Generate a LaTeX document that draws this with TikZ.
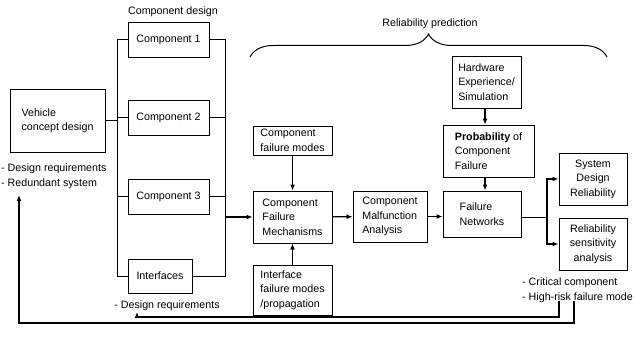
\documentclass[tikz,border=0pt]{standalone}
\usepackage{fontspec}
\setmainfont{Liberation Sans}
\usepackage{tikz}
\usetikzlibrary{%
arrows.meta,%
decorations.pathreplacing}

\begin{document}
\begin{tikzpicture}[x=1pt,y=-1pt,
    font=\fontsize{10.7}{14.5}\selectfont,
    box/.style={draw,line width=1pt,inner sep=2pt,align=left},
    cbox/.style={box,align=center},
    lbl/.style={inner sep=1pt,align=left},
    arr/.style={-{Latex[length=6pt,width=5pt]},line width=1.2pt},
    bus/.style={line width=1pt}]
\useasboundingbox (0,0) rectangle (636,337);

\node[box,minimum width=95pt,minimum height=63pt] (veh) at (57.5,120.5) {Vehicle\\concept design};
\node[box,minimum width=81pt,minimum height=34pt] (c1) at (168.5,40) {Component 1};
\node[box,minimum width=81pt,minimum height=35pt] (c2) at (168.5,117.5) {Component 2};
\node[box,minimum width=81pt,minimum height=35pt] (c3) at (168.5,196.5) {Component 3};
\node[box,minimum width=64pt,minimum height=34pt] (intf) at (160,276) {Interfaces};

\node[box,minimum width=79pt,minimum height=29pt] (cfmodes) at (292.5,140.5) {Component\\failure modes};
\node[box,minimum width=79pt,minimum height=52pt] (cfm) at (292.5,217) {Component\\Failure\\Mechanisms};
\node[box,minimum width=79pt,minimum height=50pt] (ifm) at (292.5,290) {Interface\\failure modes\\/propagation};
\node[box,minimum width=74pt,minimum height=51pt] (cma) at (390,216.5) {Component\\Malfunction\\Analysis};
\node[box,minimum width=69pt,minimum height=52pt] (hw) at (486.5,82) {Hardware\\Experience/\\Simulation};
\node[box,minimum width=91pt,minimum height=52pt] (prob) at (488.5,151) {\textbf{Probability} of\\Component\\Failure};
\node[box,minimum width=78pt,minimum height=46pt] (fn) at (482,214) {Failure\\Networks};
\node[cbox,minimum width=68pt,minimum height=52pt] (sdr) at (593,179) {System\\Design\\Reliability};
\node[cbox,minimum width=68pt,minimum height=52pt] (rsa) at (593,244) {Reliability\\sensitivity\\analysis};

\node[lbl] (cdes) at (173,12) {Component design};
\node[lbl] (relp) at (430,24) {Reliability prediction};
\node[lbl,anchor=west] (vreq) at (0,176) {- Design requirements\\- Redundant system};
\node[lbl] (ireq) at (167,306) {- Design requirements};
\node[lbl,anchor=west] (risk) at (521,290) {- Critical component\\- High-risk failure mode};

\coordinate (lbus) at (117,0);
\coordinate (rbus) at (225,0);
\coordinate (split) at (547,217);
\coordinate (fbA) at (559,301);
\coordinate (fbB) at (574,301);
\coordinate (ireqtip) at (137,312);
\coordinate (vreqtip) at (19,195);

\draw[bus] (c1.west) -| (lbus |- intf.west) -- (intf.west);
\draw[bus] (veh.east) -- (veh.east -| lbus);
\draw[bus] (c2.west) -- (c2.west -| lbus);
\draw[bus] (c3.west) -- (c3.west -| lbus);
\draw[bus] (c1.east) -| (rbus |- intf.east) -- (intf.east);
\draw[bus] (c2.east) -- (c2.east -| rbus);
\draw[bus] (c3.east) -- (c3.east -| rbus);
\draw[arr] (cfm.west -| rbus) -- (cfm.west);

\draw[arr] (cfmodes) -- (cfm);
\draw[arr] (ifm) -- (cfm);
\draw[arr] (cfm) -- (cma);
\draw[arr] (cma.east) -- (cma.east -| fn.west);
\draw[arr] (hw.south -| 485,0) -- (prob.north -| 485,0);
\draw[arr] (prob.south -| 485,0) -- (fn.north -| 485,0);
\draw[bus] (fn.east |- split) -- (split);
\draw[arr] (split) |- (sdr.west);
\draw[arr] (split) |- (rsa.west);

\draw[line width=1pt,decorate,decoration={brace,amplitude=23pt}] (250,57) -- (607,57);

\draw[arr] (fbA) -- (fbA |- 0,317) -| (ireqtip);
\draw[arr] (fbB) -- (fbB |- 0,323) -| (vreqtip);

\end{tikzpicture}
\end{document}
